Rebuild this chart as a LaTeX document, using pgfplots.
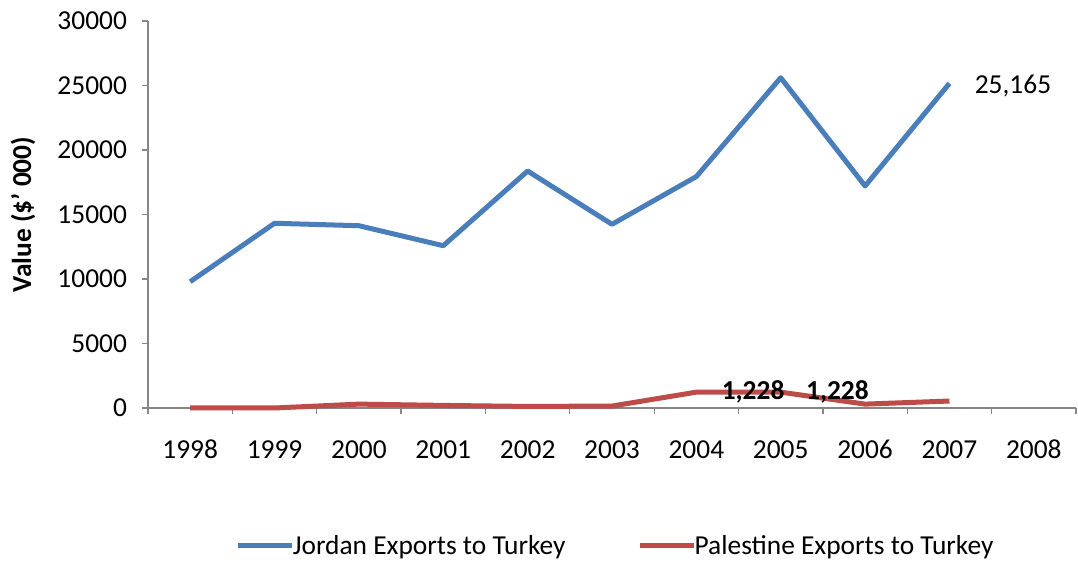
\documentclass[border=0pt]{standalone}
\usepackage{pgfplots}
\pgfplotsset{compat=1.18}
\usepackage{fontspec}
\setmainfont{Carlito}
\definecolor{jblue}{HTML}{4A7EBB}
\definecolor{pred}{HTML}{BE4B48}
\definecolor{axgray}{HTML}{868686}
\newcommand{\fs}{\fontsize{13.7pt}{16pt}\selectfont}
\begin{document}
\begin{tikzpicture}
\useasboundingbox (-74pt,-78.5pt) rectangle (465pt,204pt);
\begin{axis}[
  at={(0,0)}, anchor=south west,
  width=464pt, height=193.5pt, scale only axis,
  xmin=-0.5, xmax=10.5, ymin=0, ymax=30000,
  axis lines=left,
  axis line style={draw=axgray, line width=0.6pt, -},
  tick style={draw=axgray, line width=0.6pt},
  tick align=outside,
  major tick length=3pt,
  xtick={-0.5,0.5,...,10.5},
  x tick label as interval,
  xticklabels={1998,1999,2000,2001,2002,2003,2004,2005,2006,2007,2008},
  ytick={0,5000,...,30000},
  scaled y ticks=false,
  /pgf/number format/assume math mode=true,
  /pgf/number format/1000 sep={},
  tick label style={font=\fs, text=black},
  xticklabel style={yshift=-10pt, text height=8.7pt, text depth=0pt},
  yticklabel style={xshift=-4pt},
  ylabel={\textbf{Value (\$' 000)}},
  every axis y label/.style={at={(-74pt+11.5pt,96.75pt)}, anchor=center, rotate=90, font=\fs},
  legend style={at={(0.505,-0.3566)}, anchor=center, draw=none, fill=none,
    legend columns=2, font=\fs,
    /tikz/every even column/.append style={column sep=34pt}},
  legend cell align=left,
  legend image code/.code={\draw[#1, line width=2.5pt] (0cm,0cm) -- (27pt,0cm);},
  clip=false,
]
\addplot[jblue, line width=2.5pt, line join=round] coordinates {
  (0,9790) (1,14320) (2,14130) (3,12580) (4,18370) (5,14240) (6,17940) (7,25600) (8,17210) (9,25165)
};
\addlegendentry{\hspace{-3pt}Jordan Exports to Turkey}
\addplot[pred, line width=2.5pt, line join=round] coordinates {
  (0,0) (1,0) (2,300) (3,200) (4,120) (5,150) (6,1228) (7,1228) (8,300) (9,540)
};
\addlegendentry{\hspace{-3pt}Palestine Exports to Turkey}
\node[anchor=west, font=\fs, inner sep=0pt] at (axis cs:9,25165) [xshift=12.5pt, yshift=-1.2pt] {25,165};
\node[anchor=west, font=\fs\bfseries, inner sep=0pt] at (axis cs:6,1228) [xshift=12.5pt] {1,228};
\node[anchor=west, font=\fs\bfseries, inner sep=0pt] at (axis cs:7,1228) [xshift=12.5pt] {1,228};
\end{axis}
\end{tikzpicture}
\end{document}
